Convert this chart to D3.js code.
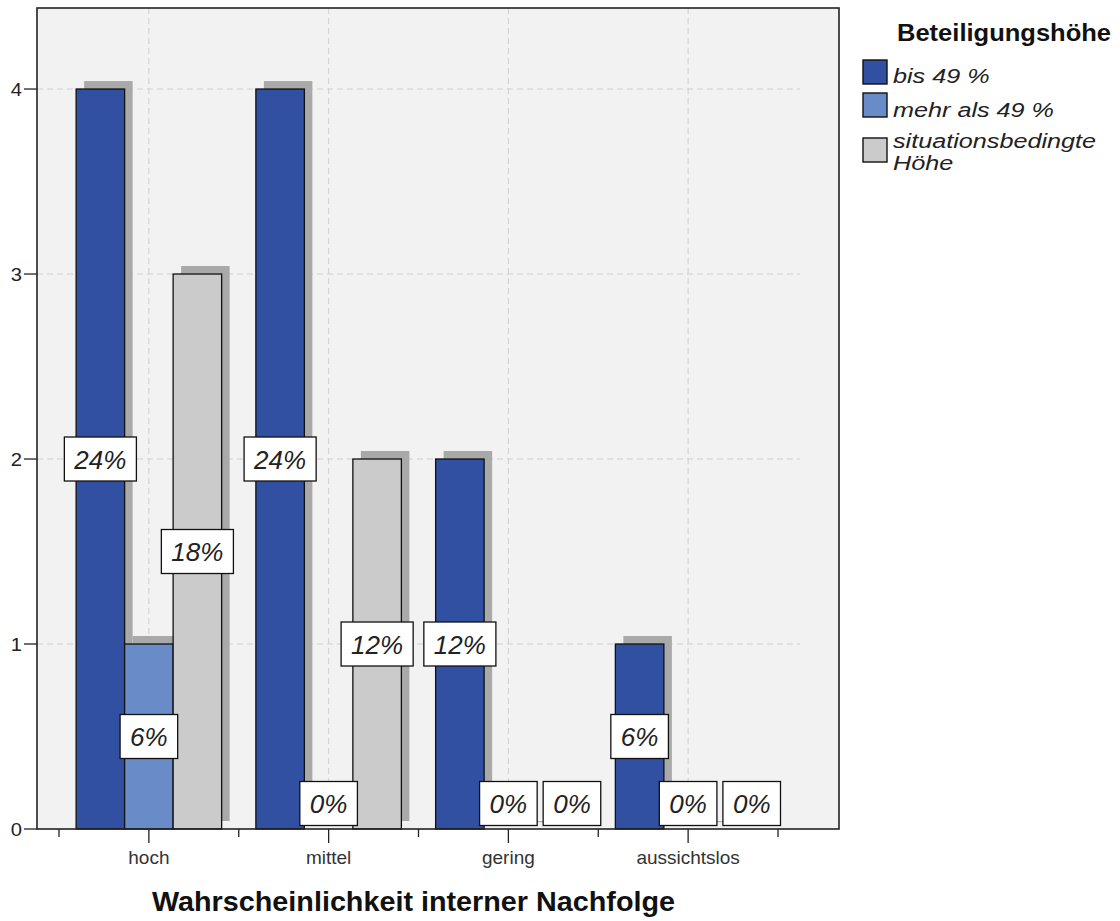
<!DOCTYPE html>
<html>
<head>
<meta charset="utf-8">
<script src="https://cdn.jsdelivr.net/npm/d3@7"></script>
<style>
  html, body { margin: 0; padding: 0; background: #ffffff; }
  svg { display: block; font-family: "Liberation Sans", Arial, sans-serif; }
</style>
</head>
<body>
<svg id="chart" width="1120" height="921"></svg>
<script>
const categories = ["hoch", "mittel", "gering", "aussichtslos"];
const seriesNames = ["bis 49 %", "mehr als 49 %", "situationsbedingte Höhe"];
const valuesBis49 = [4, 4, 2, 1];
const valuesMehr49 = [1, 0, 0, 0];
const valuesSituation = [3, 2, 0, 0];
const pctBis49 = ["24%", "24%", "12%", "6%"];
const pctMehr49 = ["6%", "0%", "0%", "0%"];
const pctSituation = ["18%", "12%", "0%", "0%"];
const yTicks = [0, 1, 2, 3, 4];
const colors = ["#3150a1", "#698cc8", "#cbcbcb"];

const allValues = [valuesBis49, valuesMehr49, valuesSituation];
const allPct = [pctBis49, pctMehr49, pctSituation];

const svg = d3.select("#chart");

const frame = { left: 37, top: 8, right: 839, bottom: 829 };
const x = d3.scaleBand().domain(categories).range([59, 778]).paddingInner(0).paddingOuter(0);
const xs = d3.scaleBand().domain(seriesNames).range([0, x.bandwidth()]).paddingInner(0).paddingOuter(0.353);
const y = d3.scaleLinear().domain([0, 4.438]).range([frame.bottom, frame.top]);

// background
svg.append("rect")
  .attr("x", frame.left).attr("y", frame.top)
  .attr("width", frame.right - frame.left).attr("height", frame.bottom - frame.top)
  .attr("fill", "#f2f2f2");

const gridPad = 22;
// horizontal grid
svg.append("g").selectAll("line").data(yTicks.filter(d => d > 0)).join("line")
  .attr("x1", x.range()[0] - gridPad).attr("x2", x.range()[1] + gridPad)
  .attr("y1", d => y(d)).attr("y2", d => y(d))
  .attr("stroke", "#cfcfcf").attr("stroke-width", 1).attr("stroke-dasharray", "6,4");
// vertical grid
svg.append("g").selectAll("line").data(categories).join("line")
  .attr("x1", d => x(d) + x.bandwidth() / 2).attr("x2", d => x(d) + x.bandwidth() / 2)
  .attr("y1", frame.top).attr("y2", frame.bottom)
  .attr("stroke", "#cfcfcf").attr("stroke-width", 1).attr("stroke-dasharray", "6,4");

// flatten data
const bars = [];
categories.forEach((c, ci) => {
  seriesNames.forEach((s, si) => {
    bars.push({ cat: c, ser: s, si, value: allValues[si][ci], pct: allPct[si][ci] });
  });
});

const shOff = 8;
// shadows
svg.append("g").selectAll("rect").data(bars).join("rect")
  .attr("x", d => x(d.cat) + xs(d.ser) + shOff)
  .attr("y", d => y(d.value) - shOff)
  .attr("width", xs.bandwidth())
  .attr("height", d => Math.max(1.2, y(0) - y(d.value)))
  .attr("fill", "#a9a9a9");

// bars
svg.append("g").selectAll("rect").data(bars.filter(d => d.value > 0)).join("rect")
  .attr("x", d => x(d.cat) + xs(d.ser))
  .attr("y", d => y(d.value))
  .attr("width", xs.bandwidth())
  .attr("height", d => y(0) - y(d.value))
  .attr("fill", d => colors[d.si])
  .attr("stroke", "#111").attr("stroke-width", 1.3);

// frame
svg.append("rect")
  .attr("x", frame.left).attr("y", frame.top)
  .attr("width", frame.right - frame.left).attr("height", frame.bottom - frame.top)
  .attr("fill", "none").attr("stroke", "#222").attr("stroke-width", 1.6);

// y axis ticks
const yAxis = svg.append("g");
yAxis.selectAll("line").data(yTicks).join("line")
  .attr("x1", 24).attr("x2", frame.left)
  .attr("y1", d => y(d)).attr("y2", d => y(d))
  .attr("stroke", "#222").attr("stroke-width", 1.3);
yAxis.selectAll("text").data(yTicks).join("text")
  .attr("x", 22).attr("y", d => y(d) + 7)
  .attr("text-anchor", "end")
  .attr("font-size", 18).attr("fill", "#222")
  .attr("transform", d => `translate(${22},0) scale(1.12,1) translate(${-22},0)`)
  .text(d => d);

// x axis ticks
const xAxis = svg.append("g");
const minor = categories.map(c => x(c)).concat([x.range()[1]]);
xAxis.selectAll("line.minor").data(minor).join("line").attr("class", "minor")
  .attr("x1", d => d).attr("x2", d => d)
  .attr("y1", frame.bottom).attr("y2", frame.bottom + 8)
  .attr("stroke", "#222").attr("stroke-width", 1.3);
xAxis.selectAll("line.major").data(categories).join("line").attr("class", "major")
  .attr("x1", d => x(d) + x.bandwidth() / 2).attr("x2", d => x(d) + x.bandwidth() / 2)
  .attr("y1", frame.bottom).attr("y2", frame.bottom + 14)
  .attr("stroke", "#222").attr("stroke-width", 1.3);
xAxis.selectAll("text").data(categories).join("text")
  .attr("x", d => x(d) + x.bandwidth() / 2).attr("y", 864)
  .attr("text-anchor", "middle")
  .attr("font-size", 19).attr("fill", "#333")
  .text(d => d);

// axis title
svg.append("text")
  .attr("x", 152).attr("y", 911)
  .attr("font-size", 27).attr("font-weight", "bold").attr("fill", "#111")
  .attr("textLength", 523).attr("lengthAdjust", "spacingAndGlyphs")
  .text("Wahrscheinlichkeit interner Nachfolge");

// value labels
const labelFont = 26;
const labelH = 44;
const labelPad = 10;
const labelsG = svg.append("g");
const measure = svg.append("text").attr("font-size", labelFont).attr("font-style", "italic").attr("visibility", "hidden");
bars.forEach(d => {
  measure.text(d.pct);
  d.w = measure.node().getComputedTextLength() + 2 * labelPad;
  d.cx = x(d.cat) + xs(d.ser) + xs.bandwidth() / 2;
  d.cy = d.value > 0 ? y(d.value / 2) : y(0) - 25.5;
});
measure.remove();
// avoid overlap among zero labels within a category
categories.forEach(c => {
  const zs = bars.filter(d => d.cat === c && d.value === 0).sort((a, b) => a.cx - b.cx);
  let prevRight = -Infinity;
  zs.forEach(d => {
    let left = d.cx - d.w / 2;
    if (left < prevRight + 6) { left = prevRight + 6; d.cx = left + d.w / 2; }
    prevRight = left + d.w;
  });
});
const lab = labelsG.selectAll("g").data(bars).join("g")
  .attr("transform", d => `translate(${d.cx},${d.cy})`);
lab.append("rect")
  .attr("x", d => -d.w / 2).attr("y", -labelH / 2)
  .attr("width", d => d.w).attr("height", labelH)
  .attr("fill", "#ffffff").attr("stroke", "#111").attr("stroke-width", 1.3);
lab.append("text")
  .attr("text-anchor", "middle").attr("y", 9.5)
  .attr("font-size", labelFont).attr("font-style", "italic").attr("fill", "#222")
  .text(d => d.pct);

// legend
const legend = svg.append("g");
legend.append("text")
  .attr("x", 897).attr("y", 41)
  .attr("font-size", 23).attr("font-weight", "bold").attr("fill", "#111")
  .attr("textLength", 214).attr("lengthAdjust", "spacingAndGlyphs")
  .text("Beteiligungshöhe");
const legendRows = [
  { lines: ["bis 49 %"], sy: 60, base: [83] },
  { lines: ["mehr als 49 %"], sy: 93, base: [117] },
  { lines: ["situationsbedingte", "Höhe"], sy: 138, base: [148, 170] }
];
legendRows.forEach((r, i) => {
  legend.append("rect")
    .attr("x", 863).attr("y", r.sy).attr("width", 24).attr("height", 24)
    .attr("fill", colors[i]).attr("stroke", "#111").attr("stroke-width", 1.4);
  r.lines.forEach((t, li) => {
    legend.append("text")
      .attr("x", 0).attr("y", 0)
      .attr("transform", `translate(893,${r.base[li]}) scale(1.2,1)`)
      .attr("font-size", 21).attr("font-style", "italic").attr("fill", "#222")
      .text(t);
  });
});
</script>
</body>
</html>
